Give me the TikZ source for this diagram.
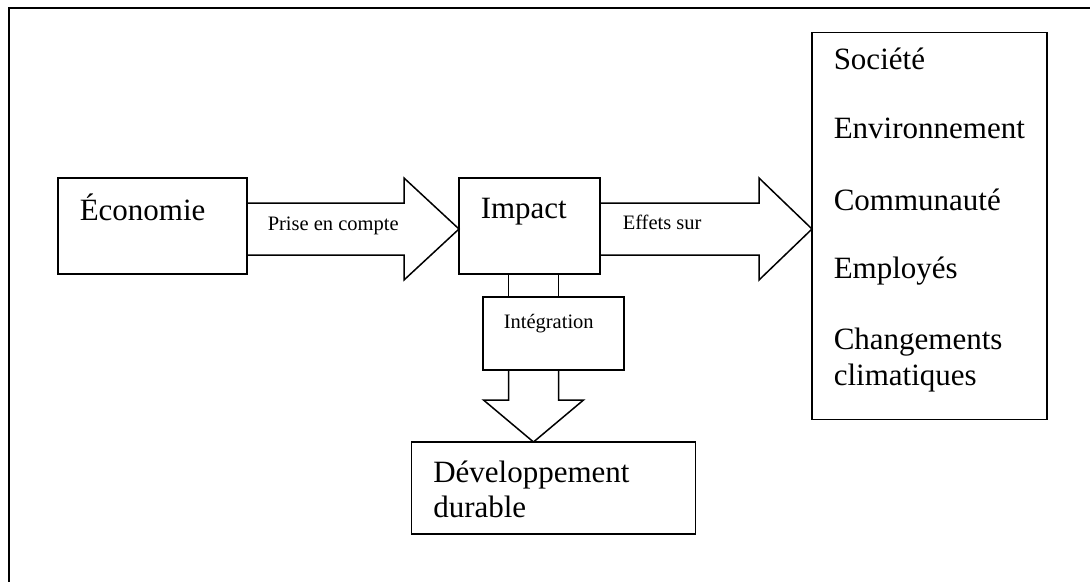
\documentclass[tikz,border=0pt]{standalone}
\usepackage{fontspec}
\setmainfont{Liberation Serif}
\usetikzlibrary{positioning, calc}

\begin{document}
\begin{tikzpicture}[x=1pt, y=-1pt,
						line width=1.5pt,
						block/.style={draw,rectangle,inner sep=0pt,outer sep=0pt},
						bigtext/.style={font=\fontsize{31}{36}\selectfont, inner sep=0pt, anchor=base west},
						smalltext/.style={font=\fontsize{20.5}{24}\selectfont, inner sep=0pt, anchor=base west},
						blockarrow/.style={draw, line join=miter}]
		\useasboundingbox (0,0) rectangle (1090,582);
		\draw (1090,8) -- (9,8) -- (9,582);

		\node (econ) [block, minimum width=189pt, minimum height=96pt] at (152.5,226) {};
		\node (impact) [block, minimum width=141pt, minimum height=96pt, right=212pt of econ] {};
		\node (effets) [block, minimum width=235pt, minimum height=387pt, right=212pt of impact] {};
		\node (integ) [block, minimum width=141pt, minimum height=73pt, below=23pt of impact, xshift=24pt] {};
		\node (dev) [block, minimum width=284pt, minimum height=92pt, below=72pt of integ] {};

		\node (econ_txt) [bigtext] at ($(econ.north west)+(21,42)$) {Économie};
		\node (impact_txt) [bigtext] at ($(impact.north west)+(21,40)$) {Impact};
		\node (integ_txt) [smalltext] at ($(integ.north west)+(20,31)$) {Intégration};
		\node (dev_txt1) [bigtext] at ($(dev.north west)+(21,40)$) {Développement};
		\node (dev_txt2) [bigtext] at ($(dev.north west)+(21,75)$) {durable};
		\foreach \item/\dy [count=\i] in {Société/37, Environnement/106, Communauté/178, Employés/246, Changements/317, climatiques/353}
			\node (item\i) [bigtext] at ($(effets.north west)+(21,\dy)$) {\item};

		\draw[blockarrow] ($(econ.east)+(0,-23)$) -- ($(impact.west)+(-55,-23)$) -- ++(0,-25)
				-- ($(impact.west)+(0,3)$) -- ($(impact.west)+(-55,54)$) -- ++(0,-25) -- ($(econ.east)+(0,29)$);
		\draw[blockarrow] ($(impact.east)+(0,-23)$) -- ($(effets.west)+(-53,-23)$) -- ++(0,-25)
				-- ($(effets.west)+(0,3)$) -- ($(effets.west)+(-53,54)$) -- ++(0,-25) -- ($(impact.east)+(0,29)$);
		\node (prise) [smalltext] at ($(econ.east)+(20,4)$) {Prise en compte};
		\node (effets_lbl) [smalltext] at ($(impact.east)+(22,3)$) {Effets sur};

		\coordinate (c1) at ($(impact.south)+(-21,0)$);
		\coordinate (c2) at ($(impact.south)+(29,0)$);
		\coordinate (mid) at ($(c1)!0.5!(c2)$);
		\coordinate (d1) at (c1 |- integ.south);
		\coordinate (d2) at (c2 |- integ.south);
		\draw (c1) -- (c1 |- integ.north) (c2) -- (c2 |- integ.north);
		\draw[blockarrow] (d1) -- ++(0,30) -- ++(-25,0) -- (mid |- dev.north)
				-- ($(d2)+(25,30)$) -- ($(d2)+(0,30)$) -- (d2);
	\end{tikzpicture}
\end{document}
